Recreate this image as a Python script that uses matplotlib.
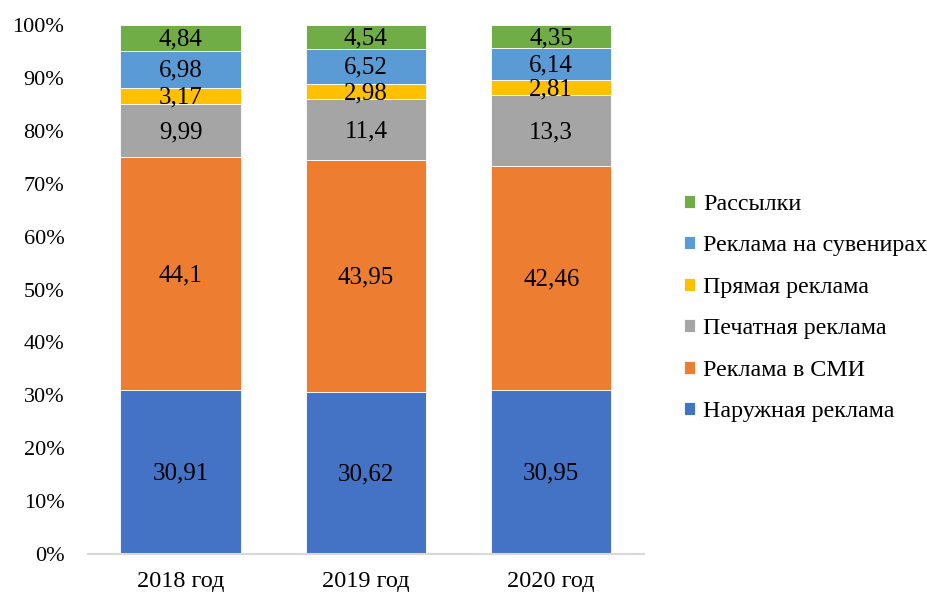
import matplotlib.pyplot as plt
import numpy as np
from matplotlib.ticker import PercentFormatter

plt.rcParams['font.family'] = ['Liberation Serif', 'DejaVu Serif']

years = ['2018 год', '2019 год', '2020 год']
categories = ['Наружная реклама', 'Реклама в СМИ', 'Печатная реклама',
              'Прямая реклама', 'Реклама на сувенирах', 'Рассылки']
outdoor = [30.91, 30.62, 30.95]
media = [44.1, 43.95, 42.46]
printed = [9.99, 11.4, 13.3]
direct = [3.17, 2.98, 2.81]
souvenirs = [6.98, 6.52, 6.14]
mailing = [4.84, 4.54, 4.35]
colors = ['#4472C4', '#ED7D31', '#A5A5A5', '#FFC000', '#5B9BD5', '#70AD47']

series = np.array([outdoor, media, printed, direct, souvenirs, mailing])
shares = series / series.sum(axis=0) * 100  # 100% stack

fig = plt.figure(figsize=(9.28, 5.94), dpi=100)
ax = fig.add_axes([0.0948, 0.0673, 0.599, 0.8906])

x = np.arange(len(years))
bottom = np.zeros(len(years))
for vals, share, name, c in zip(series, shares, categories, colors):
    ax.bar(x, share, 0.65, bottom=bottom, color=c, label=name,
           edgecolor='white', linewidth=0.6)
    for xi, b, s, v in zip(x, bottom, share, vals):
        ax.text(xi, b + s / 2 - 0.3, str(v).replace('.', ','), ha='center', va='center',
                fontsize=18, color='black')
    bottom += share

ax.set_xlim(-0.5, 2.5)
ax.set_ylim(0, 100)
ax.set_yticks(np.arange(0, 101, 10))
ax.yaxis.set_major_formatter(PercentFormatter(decimals=0))
ax.set_xticks(x)
ax.set_xticklabels(years)
ax.tick_params(axis='y', length=0, pad=17, labelsize=16)
ax.tick_params(axis='x', length=0, pad=12, labelsize=17.5)
for side in ['top', 'right', 'left']:
    ax.spines[side].set_visible(False)
ax.spines['bottom'].set_color('#D9D9D9')
ax.spines['bottom'].set_linewidth(1.5)

handles, labels = ax.get_legend_handles_labels()
ax.legend(handles[::-1], labels[::-1], loc='center left', bbox_to_anchor=(1.055, 0.465),
          frameon=False, fontsize=17.3, handlelength=0.45, handleheight=0.45,
          handletextpad=0.35, labelspacing=0.85, borderaxespad=0)

plt.savefig('out.png', dpi=100)
